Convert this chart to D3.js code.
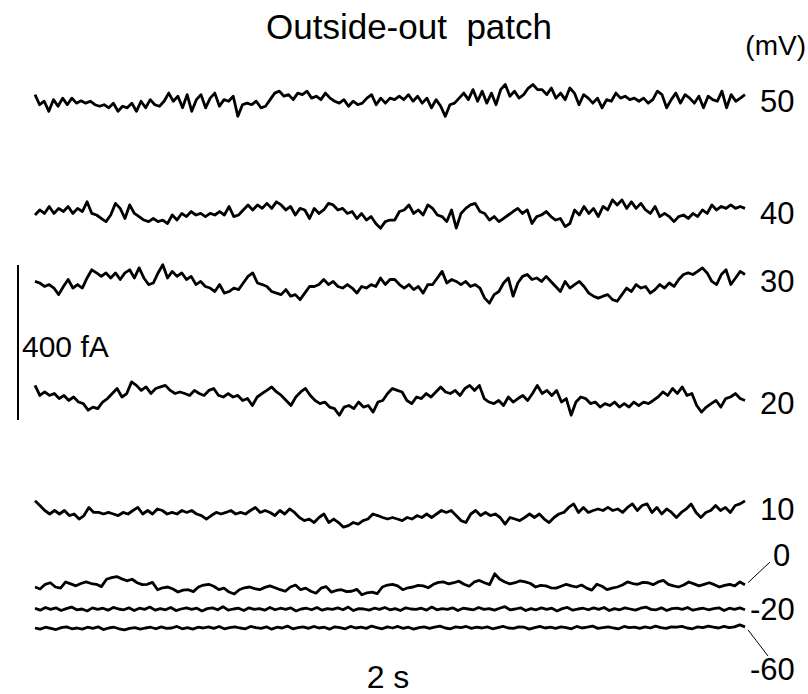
<!DOCTYPE html>
<html>
<head>
<meta charset="utf-8">
<script src="https://cdn.jsdelivr.net/npm/d3@7/dist/d3.min.js"></script>
<style>
body { margin: 0; background: #fff; }
text { font-family: "Liberation Sans", Arial, sans-serif; fill: #000; }
</style>
</head>
<body>
<div class="chart"></div>
<script>
// holding potentials (mV), top to bottom
var voltages = [50, 40, 30, 20, 10, 0, -20, -60];

// current traces, fA relative to each trace's mean level
var trace50 = [19,-7,2,-24,6,-11,10,-7,10,-3,3,-3,2,-7,-11,-7,-15,-3,-24,-11,-15,-3,-24,2,-15,6,-7,-11,2,23,2,15,-15,19,-24,6,19,-15,10,23,-11,6,2,15,-37,-7,-3,-7,2,-15,-11,6,23,28,15,19,6,23,19,28,10,15,6,23,10,2,-3,6,-11,2,-7,-3,10,19,-7,10,-3,10,6,
  15,6,19,2,15,-3,10,-15,6,-11,-37,-7,-3,10,23,6,32,2,28,-3,23,-7,32,45,15,28,10,19,36,45,32,32,19,36,10,23,6,36,23,-7,19,10,-3,10,-15,6,2,23,10,15,6,10,2,10,-3,6,28,19,-15,6,23,-3,19,10,-3,15,-15,15,6,2,28,-15,19,2,10,19];
var trace40 = [0,13,4,22,4,17,9,22,4,17,9,34,4,0,-9,-17,0,30,17,-9,26,4,-4,-13,-17,-9,-17,-13,-22,0,-13,4,-4,9,0,4,-4,4,0,9,0,22,-4,0,13,26,13,26,17,30,17,34,26,13,22,0,17,13,-9,17,4,13,30,26,13,17,4,9,-9,4,-13,-4,-22,-34,-17,-13,
  -13,9,13,26,4,13,0,26,17,0,-4,-17,13,-34,4,17,26,30,9,4,-13,-4,-17,-9,0,9,17,4,13,-22,-4,0,9,-4,-13,-9,-30,-22,13,0,22,4,17,-4,22,13,39,26,39,17,34,17,30,13,4,22,-4,4,-4,-17,-4,0,-9,4,-4,13,4,26,13,22,17,26,17,22,17];
var trace30 = [4,0,-9,-4,-13,-30,-9,9,-13,-4,-13,13,34,26,17,26,13,26,9,26,34,13,39,13,-4,0,26,47,13,30,17,26,9,17,-4,4,-9,-13,-22,-4,-26,-22,-13,-17,0,17,26,0,-4,-9,-22,-26,-30,-17,-34,-30,-43,-26,-9,-9,-4,9,-4,4,-9,-13,-4,-13,-26,-9,-13,-4,-9,13,-4,9,
  9,-4,-13,-4,-17,-9,-26,-4,-4,13,30,0,9,4,-4,4,-9,-4,-13,-39,-52,-30,-22,0,13,-34,0,17,22,9,13,4,17,4,-9,-22,4,-13,-4,4,-9,-26,-34,-39,-34,-30,-43,-47,-30,-13,-22,-4,-13,-9,-26,-17,-4,-13,0,-9,9,22,26,22,30,39,26,4,-4,22,34,-4,13,30,22];
var trace20 = [30,4,13,4,9,-4,4,-9,0,-13,-17,-34,-26,-30,-13,-4,9,22,0,9,39,30,17,26,9,22,26,30,17,9,13,9,4,17,9,4,17,22,4,0,9,0,4,-9,-4,-22,0,9,17,26,13,4,-9,-22,0,13,22,4,-9,-17,-13,-26,-30,-47,-26,-22,-30,-13,-26,-22,-39,-13,-9,9,22,
  17,13,-9,-17,0,-4,9,0,13,26,13,9,17,4,22,30,17,30,-4,-13,-17,-9,-22,0,-13,-4,4,-9,9,30,9,17,4,17,-13,-4,-47,-13,0,-4,-17,-13,-26,-17,-22,-13,-26,-17,-26,-13,-22,-13,-17,-9,0,13,4,22,9,26,4,9,-22,-39,-26,-17,-9,-26,-4,0,9,-4,-9];
var trace10 = [34,22,9,0,9,0,9,-4,0,-13,-4,17,4,4,0,4,0,-4,4,0,9,17,0,9,0,13,9,0,4,0,9,4,9,0,-4,-13,-4,4,0,4,9,0,4,0,9,17,4,9,4,-4,9,0,13,4,-9,-17,-13,-22,-9,0,-22,-13,-22,-34,-30,-22,-26,-17,-13,0,-4,-9,-13,
  -9,-13,-17,-9,-13,-4,-9,0,-9,0,9,4,9,-4,-17,-22,0,9,-4,4,-4,0,-9,-26,-9,-13,-17,-9,0,-9,0,-13,-22,-9,0,4,17,26,4,17,4,9,13,9,17,9,13,4,17,26,9,22,26,4,17,0,13,4,-9,4,13,26,4,-9,4,9,22,9,17,4,22,26,34];
var trace0 = [0,-5,7,11,0,-3,13,8,3,9,13,9,7,1,20,24,27,21,16,20,11,6,7,12,-7,-2,0,-5,-13,-8,-7,-12,0,5,7,2,-7,-3,-13,-18,-7,-2,0,-4,-7,-1,3,-2,-7,-11,0,5,-7,-3,-11,-16,-3,1,-13,-9,-7,-12,-11,-6,-20,-15,-13,-17,0,5,
  7,3,-7,-2,0,4,3,-2,7,12,13,8,11,15,7,2,13,17,11,6,34,20,13,8,11,16,13,9,0,4,3,-2,-3,2,7,3,0,5,-3,-8,7,2,-7,-3,0,5,13,9,7,12,11,6,13,17,7,3,0,5,13,8,3,7,11,6,0,4,7,3,13,6];
var traceM20 = [2,-3,4,-1,3,-4,1,5,-2,0,-5,3,-1,2,-3,4,0,-2,3,-4,2,-1,5,-3,1,-2,4,-4,0,3,-1,2,-5,1,3,-2,6,-3,0,2,-4,3,-1,1,-3,4,-2,2,-1,3,-5,0,2,-2,4,-3,1,-1,3,-2,5,-4,1,0,-3,2,-1,4,-2,1,
  -4,3,0,-1,2,-3,5,-2,1,-1,3,-4,2,0,-2,4,-1,1,-3,2,6,-2,0,3,-4,1,-2,3,-1,2,-5,1,4,-3,0,2,-2,3,-1,4,-4,1,-2,3,0,-3,2,5,-1,-2,3,-4,1,2,-1,4,-3,0,2,-2,1,3,-4,2,-1,3,-2];
var traceM60 = [0,-3,2,-1,-4,1,3,-2,0,-3,2,-1,3,-4,0,2,-2,-5,-1,1,-3,0,2,-2,3,-1,0,4,-2,1,-3,2,0,3,-1,4,-2,1,3,0,-2,4,1,-1,3,-3,2,0,5,-2,1,3,-1,4,0,2,-3,3,1,-2,4,0,2,-1,5,1,-2,3,0,4,
  -1,2,-3,1,3,-1,2,5,0,-2,3,1,4,-1,2,0,3,-2,1,4,0,-1,3,2,-3,1,4,0,2,-1,3,1,-2,4,0,2,5,-1,1,3,0,-2,4,1,2,-1,3,0,5,1,-1,3,2,4,0,-2,3,1,5,2,0,4,1,3,8,3];

var traces = [trace50, trace40, trace30, trace20, trace10, trace0, traceM20, traceM60];

var scaleBarValue = 400;   // fA
var scaleBarLabel = '400 fA';
var timeLabel = '2 s';
var title = 'Outside-out  patch';
var unitLabel = '(mV)';

var width = 808, height = 694;

var svg = d3.select('.chart')
	.append('svg')
	.attr('width', width)
	.attr('height', height);

// layout
var baselines = [102, 215, 283, 397, 514, 587, 609, 628];
var x0 = 35, x1 = 745;
var fA = d3.scaleLinear().domain([0, scaleBarValue]).range([0, 155]);

var line = function(values, base) {
	var x = d3.scaleLinear().domain([0, values.length - 1]).range([x0, x1]);
	return d3.line()
		.x(function(d, i) { return x(i); })
		.y(function(d) { return base - fA(d); })(values);
};

svg.append('g')
	.attr('class', 'traces')
	.selectAll('.trace')
	.data(traces)
	.enter().append('path')
	.attr('class', 'trace')
	.attr('d', function(d, i) { return line(d, baselines[i]); })
	.attr('fill', 'none')
	.attr('stroke', '#000')
	.attr('stroke-width', 2.8)
	.attr('stroke-linejoin', 'round');

// voltage labels
var labelPos = [
	{x: 760, y: 112}, {x: 760, y: 224}, {x: 760, y: 292}, {x: 760, y: 414},
	{x: 760, y: 520}, {x: 773, y: 566}, {x: 750, y: 620}, {x: 750, y: 680}
];

svg.append('g')
	.selectAll('text')
	.data(voltages)
	.enter().append('text')
	.attr('x', function(d, i) { return labelPos[i].x; })
	.attr('y', function(d, i) { return labelPos[i].y; })
	.attr('font-size', 31)
	.text(function(d) { return d; });

// leader lines for 0 and -60
var endY = function(i) { var v = traces[i]; return baselines[i] - fA(v[v.length - 1]); };
svg.append('line')
	.attr('x1', x1 + 3).attr('y1', endY(5) - 2)
	.attr('x2', 770).attr('y2', 562)
	.attr('stroke', '#000').attr('stroke-width', 1);
svg.append('line')
	.attr('x1', x1 + 3).attr('y1', endY(7) + 3)
	.attr('x2', 768).attr('y2', 656)
	.attr('stroke', '#000').attr('stroke-width', 1);

svg.append('text')
	.attr('x', 806).attr('y', 55)
	.attr('text-anchor', 'end')
	.attr('font-size', 28)
	.text(unitLabel);

svg.append('text')
	.attr('x', 409).attr('y', 39)
	.attr('text-anchor', 'middle')
	.attr('font-size', 35)
	.attr('xml:space', 'preserve')
	.style('white-space', 'pre')
	.text(title);

// vertical scale bar
svg.append('line')
	.attr('x1', 18).attr('x2', 18)
	.attr('y1', 265).attr('y2', 265 + fA(scaleBarValue))
	.attr('stroke', '#000')
	.attr('stroke-width', 2);

svg.append('text')
	.attr('x', 22).attr('y', 357)
	.attr('font-size', 30)
	.text(scaleBarLabel);

svg.append('text')
	.attr('x', 388).attr('y', 688)
	.attr('text-anchor', 'middle')
	.attr('font-size', 32)
	.attr('xml:space', 'preserve')
	.text(timeLabel);
</script>
</body>
</html>
